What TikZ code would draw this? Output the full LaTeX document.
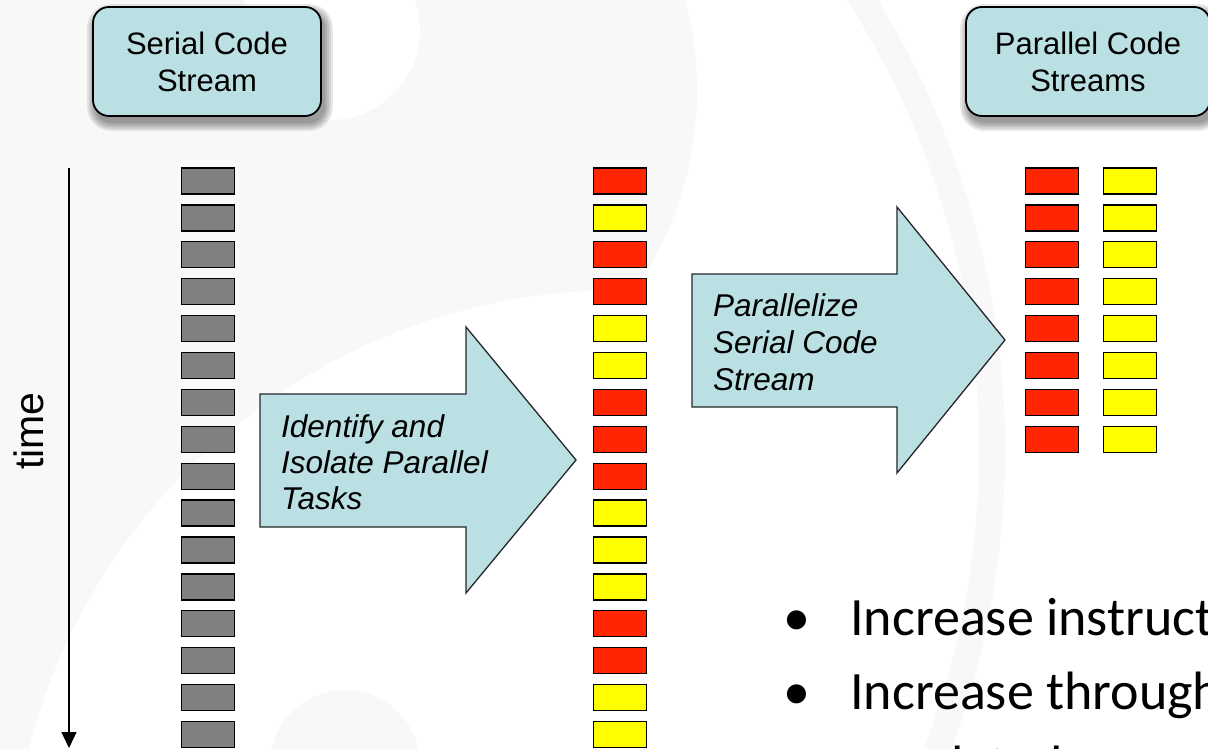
\documentclass[tikz,border=0pt]{standalone}
\usepackage{fontspec}
\setmainfont{Liberation Sans}
\newfontfamily\bulletfont{Carlito}
\usetikzlibrary{arrows.meta}

\definecolor{boxfill}{HTML}{BBE0E3}
\definecolor{taskR}{HTML}{FF2600}
\definecolor{taskY}{HTML}{FFFF00}
\definecolor{taskG}{HTML}{808080}
\definecolor{bgtint}{HTML}{F8F8F8}

\pgfdeclarelayer{bg}
\pgfdeclarelayer{shadow}
\pgfsetlayers{bg,shadow,main}

\tikzset{
  label box/.style={draw=black, line width=1.8pt, fill=boxfill,
    rounded corners=16pt, minimum height=109pt, inner sep=0pt,
    align=center, font=\fontsize{31}{37}\selectfont},
  task/.style={draw=black, line width=1.3pt, minimum width=53pt,
    minimum height=26pt, inner sep=0pt},
  block arrow/.style={fill=boxfill, draw=black!85, line width=1.3pt,
    line join=miter},
  arrow text/.style={anchor=base west, inner sep=0pt,
    font=\fontsize{31.5}{37}\selectfont\itshape},
  bullet text/.style={anchor=base west, inner sep=0pt,
    font=\bulletfont\fontsize{54}{74}\selectfont},
}

\begin{document}
\begin{tikzpicture}[x=1pt, y=-1pt]
  \useasboundingbox (0,0) rectangle (1208,749);
  \clip (0,0) rectangle (1208,749);

  % faint watermark behind everything
  \begin{pgfonlayer}{bg}
    \fill[white] (0,0) rectangle (1208,749);
    \fill[bgtint] (345,90) circle[radius=352];
    \fill[bgtint] (0,0) rectangle (345,749);
    \fill[white] (620,900) circle[radius=610];
    \fill[white] (330,30) circle[radius=90];
    \fill[bgtint] (345,765) circle[radius=75];
    \fill[bgtint, even odd rule] (147,450) circle[radius=858] (147,450) circle[radius=832];
  \end{pgfonlayer}

  % heading boxes
  \node[label box, minimum width=228pt] (serial) at (207,61.5) {Serial Code\\Stream};
  \node[label box, minimum width=244pt] (parallel) at (1088,61.5) {Parallel Code\\Streams};

  % soft shadows under the heading boxes
  \begin{pgfonlayer}{shadow}
    \foreach \b in {serial,parallel}{
      \foreach \e in {0,2,4,6,8}{
        \fill[black, opacity=0.09, rounded corners=16pt+\e pt]
          ([shift={(3-\e,6-\e)}]\b.north west) rectangle ([shift={(3+\e,6+\e)}]\b.south east);
      }
    }
  \end{pgfonlayer}

  % time axis
  \coordinate (t0) at (69,168);
  \coordinate (t1) at (69,748);
  \draw[line width=1.5pt, -{Triangle[length=16pt,width=15pt]}] (t0) -- (t1);
  \node[rotate=90, anchor=base west, inner sep=0pt,
    font=\fontsize{41}{41}\selectfont] (timelbl) at (43,470) {time};

  % serial code stream
  \foreach \i in {0,...,15}
    \node[task, fill=taskG] (s\i) at (208,181+\i*36.9) {};

  % serial stream with its parallel tasks marked
  \foreach \c [count=\i from 0] in {R,Y,R,R,Y,Y,R,R,R,Y,Y,Y,R,R,Y,Y}
    \node[task, fill=task\c] (m\i) at (620,181+\i*36.9) {};

  % two parallel streams
  \foreach \i in {0,...,7}{
    \node[task, fill=taskR] (pr\i) at (1052,181+\i*36.9) {};
    \node[task, fill=taskY] (py\i) at (1130,181+\i*36.9) {};
  }

  % block arrows
  \path[block arrow] (260,394) -- (466,394) -- (466,327) -- (576,460)
    -- (466,593) -- (466,527) -- (260,527) -- cycle;
  \node[arrow text] (a1l1) at (281,437) {Identify and};
  \node[arrow text] (a1l2) at (281,473) {Isolate Parallel};
  \node[arrow text] (a1l3) at (281,509) {Tasks};

  \path[block arrow] (692,274) -- (897,274) -- (897,207) -- (1005,340)
    -- (897,473) -- (897,407) -- (692,407) -- cycle;
  \node[arrow text] (a2l1) at (713,316) {Parallelize};
  \node[arrow text] (a2l2) at (713,353) {Serial Code};
  \node[arrow text] (a2l3) at (713,390) {Stream};

  % bullet list
  \node[bullet text] (dot1) at (783,635) {•};
  \node[bullet text] (item1) at (850,635) {Increase instruction};
  \node[bullet text] (dot2) at (783,709) {•};
  \node[bullet text] (item2) at (850,709) {Increase throughput};
  \node[bullet text] (item3) at (850,783) {unrelated};
\end{tikzpicture}
\end{document}
